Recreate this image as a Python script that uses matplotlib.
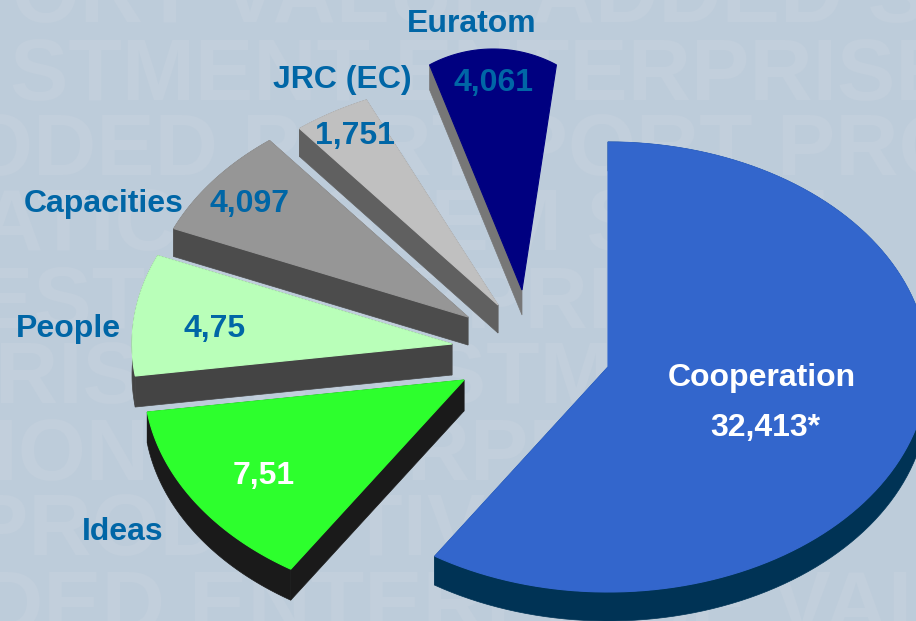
import numpy as np
import matplotlib
matplotlib.use("Agg")
import matplotlib.pyplot as plt

plt.rcParams['font.family'] = ['Liberation Sans', 'DejaVu Sans']

# budget per programme, clockwise from 12 o'clock
names = ["Cooperation", "Ideas", "People", "Capacities", "JRC (EC)", "Euratom"]
values = [32413, 7510, 4750, 4097, 1751, 4061]
value_labels = ["32,413*", "7,51", "4,75", "4,097", "1,751", "4,061"]

# exploded apex of each slice, in pixels
apex_x = [608, 464, 452, 468, 498, 522]
apex_y = [367, 380, 344, 317, 305, 290]
# small angle corrections, the original is a perspective render
nudge_start = [0, -1, -1.5, -1.5, 0, 0]
nudge_end = [-1, -1.5, -1.5, 0, 2.5, 0]
face_colors = ["#3366cc", "#2dff2d", "#b9ffb9", "#969696", "#c0c0c0", "#000080"]
wall_colors = ["#003355", "#1a1a1a", "#444444", "#4c4c4c", "#606060", "#777777"]
depths = [29, 31, 31, 28, 28, 25]

name_pos = [(762, 378), (123, 532), (68, 329), (104, 204), (342, 80), (472, 24)]
value_pos = [(765, 428), (264, 476), (215, 329), (250, 204), (355, 136), (494, 83)]
name_color = ["white", "#0066a6", "#0066a6", "#0066a6", "#0066a6", "#0066a6"]
value_color = ["white", "white", "#0066a6", "#0066a6", "#0066a6", "#0066a6"]

# faint background words: left, baseline, text
watermark = [
    (-105, 22, "PPORT VALUE ADDED SUPPORT"),
    (10, 100, "STMENT ENTERPRISE"),
    (-35, 175, "ODED PORT PORT PRO"),
    (-20, 250, "ATIC SYSTEM STEM"),
    (-25, 328, "EST ENTERPRISE"),
    (-5, 403, "RISE INVESTMENT"),
    (-60, 480, "TION ENTERPRISE"),
    (-30, 555, "PRODUCTIVE PORT"),
    (-20, 632, "DED ENTERPRISE VALUE"),
]

RX = 320
RY = 225

fig = plt.figure(figsize=(9.16, 6.21), dpi=100, facecolor="#bdccda")
ax = fig.add_axes([0, 0, 1, 1])
ax.set_xlim(0, 916)
ax.set_ylim(621, 0)
ax.axis("off")

for wx, wy, word in watermark:
    ax.text(wx, wy, word, fontsize=63, fontweight="bold", color="#c2cfdc",
            ha="left", va="baseline", clip_on=True, zorder=1)

angles = np.cumsum([0] + values) / sum(values) * 360


def slice_arc(i):
    a0 = angles[i] + nudge_start[i]
    a1 = angles[i + 1] + nudge_end[i]
    if names[i] == "Euratom":
        # the far slice is drawn with its own tighter arc
        t = np.radians(np.linspace(-29.2, 29.2, 40))
        return 493 + 130 * np.sin(t), 49 + 125 - 125 * np.cos(t)
    t = np.radians(np.linspace(a0, a1, 120))
    return apex_x[i] + RX * np.sin(t), apex_y[i] - RY * np.cos(t)


def draw_wall(xs, ys, d, color, z):
    ax.fill(np.r_[xs, xs[::-1]], np.r_[ys, ys[::-1] + d], color=color, lw=0.5, zorder=z)


# back to front
for i in [5, 4, 2, 3, 1, 0]:
    xs, ys = slice_arc(i)
    z = 2 + (5 - i) * 2
    # left side of the slice
    draw_wall(np.r_[apex_x[i], xs[0]], np.r_[apex_y[i], ys[0]], depths[i], wall_colors[i], z)
    if names[i] != "Euratom":
        draw_wall(xs, ys, depths[i], wall_colors[i], z)
        draw_wall(np.r_[xs[-1], apex_x[i]], np.r_[ys[-1], apex_y[i]], depths[i], wall_colors[i], z)
    ax.fill(np.r_[apex_x[i], xs], np.r_[apex_y[i], ys], facecolor=face_colors[i],
            edgecolor=face_colors[i], lw=0.8, zorder=z + 1)

for i in range(len(names)):
    ax.text(name_pos[i][0], name_pos[i][1], names[i], fontsize=23, fontweight="bold",
            color=name_color[i], ha="center", va="center", zorder=20)
    ax.text(value_pos[i][0], value_pos[i][1], value_labels[i], fontsize=23, fontweight="bold",
            color=value_color[i], ha="center", va="center", zorder=20)

fig.savefig("out.png", dpi=100, facecolor=fig.get_facecolor())
